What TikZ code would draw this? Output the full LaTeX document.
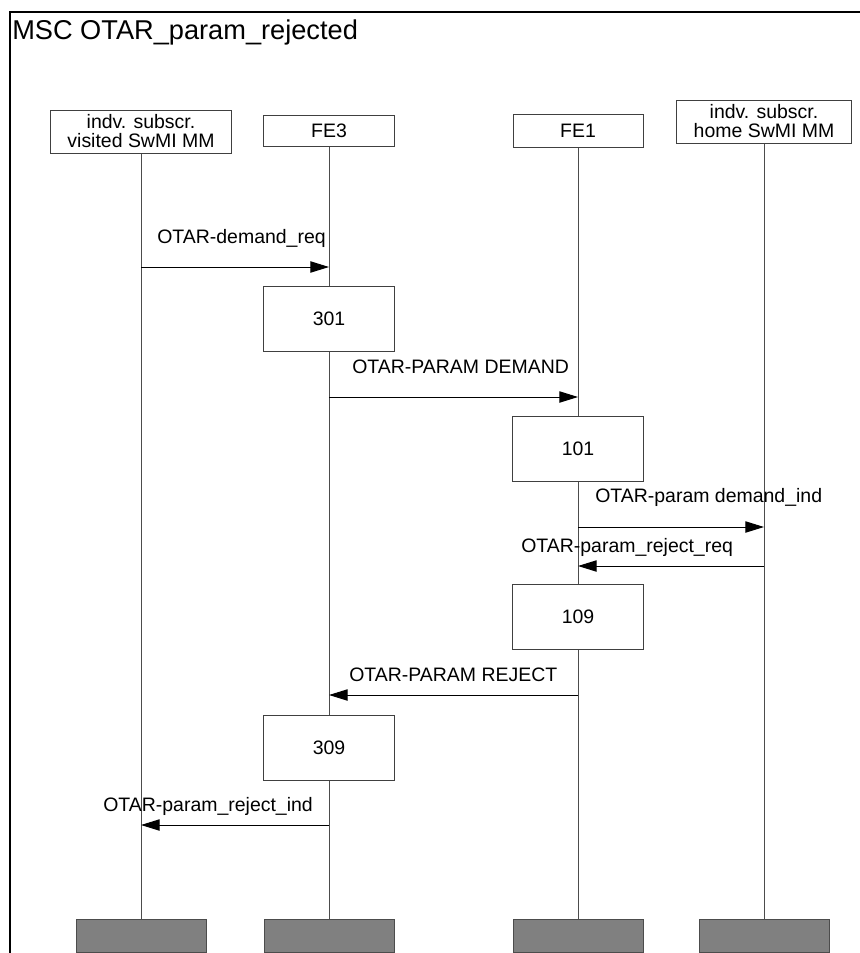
\documentclass[tikz,border=0pt]{standalone}
\usepackage{fontspec}
\setmainfont{Liberation Sans}
\usetikzlibrary{arrows.meta}

\begin{document}
\begin{tikzpicture}[x=0.75pt, y=-0.75pt,
    inst/.style={rectangle, draw=black!75, line width=0.75pt, inner sep=0pt, align=center, font=\fontsize{14.6}{14.3}\selectfont},
    taskbox/.style={inst, minimum width=98.25pt, minimum height=48.75pt},
    endbox/.style={rectangle, draw=black!70, fill=black!50, line width=0.75pt, minimum width=97.5pt, minimum height=24.75pt},
    life/.style={black!70, line width=0.75pt},
    msg/.style={-{Triangle[length=14pt, width=8.5pt]}, line width=0.75pt},
    lbl/.style={anchor=base west, inner sep=0pt, font=\fontsize{14.6}{17}\selectfont}
]
    \useasboundingbox (0,0) rectangle (860,953);

    % frame and title
    \draw[line width=1.5pt] (10,953) -- (10,12) -- (860,12);
    \node[anchor=base west, inner sep=0pt, font=\fontsize{20.4}{23}\selectfont] (title) at (12,39) {MSC OTAR\_param\_rejected};

    % instances
    \node[inst, minimum width=135.75pt, minimum height=32.25pt] (visited) at (141,131.5) {indv. subscr.\\visited SwMI MM};
    \node[inst, minimum width=98.25pt, minimum height=23.25pt] (fe3) at (329,130.5) {FE3};
    \node[inst, minimum width=97.5pt, minimum height=24.75pt] (fe1) at (578,130.5) {FE1};
    \node[inst, minimum width=131.25pt, minimum height=32.25pt] (home) at (764,121.5) {indv. subscr.\\home SwMI MM};

    % instance ends
    \node[endbox] (visitedend) at (141,935.5) {};
    \node[endbox] (fe3end) at (329,935.5) {};
    \node[endbox] (fe1end) at (578,935.5) {};
    \node[endbox] (homeend) at (764,935.5) {};

    % lifelines
    \draw[life] (visited) -- (visitedend);
    \draw[life] (fe3) -- (fe3end);
    \draw[life] (fe1) -- (fe1end);
    \draw[life] (home) -- (homeend);

    % tasks
    \node[taskbox, fill=white] (t301) at (329,318.5) {301};
    \node[taskbox, fill=white] (t101) at (578,448.5) {101};
    \node[taskbox, fill=white] (t109) at (578,617) {109};
    \node[taskbox, fill=white] (t309) at (329,747.5) {309};

    % message end points
    \coordinate (demreqA) at (141,267);
    \coordinate (demreqB) at (329,267);
    \coordinate (pdemB) at (329,397);
    \coordinate (pdemC) at (578,397);
    \coordinate (demindC) at (578,527);
    \coordinate (demindD) at (764,527);
    \coordinate (rejreqD) at (764,566);
    \coordinate (rejreqC) at (578,566);
    \coordinate (prejC) at (578,695);
    \coordinate (prejB) at (329,695);
    \coordinate (rejindB) at (329,825);
    \coordinate (rejindA) at (141,825);

    % messages
    \draw[msg] (demreqA) -- (demreqB);
    \node[lbl] (l1) at (157,243) {OTAR-demand\_req};
    \draw[msg] (pdemB) -- (pdemC);
    \node[lbl] (l2) at (352,373) {OTAR-PARAM DEMAND};
    \draw[msg] (demindC) -- (demindD);
    \node[lbl] (l3) at (595,502) {OTAR-param demand\_ind};
    \draw[msg] (rejreqD) -- (rejreqC);
    \node[lbl] (l4) at (521,552) {OTAR-param\_reject\_req};
    \draw[msg] (prejC) -- (prejB);
    \node[lbl] (l5) at (349,681) {OTAR-PARAM REJECT};
    \draw[msg] (rejindB) -- (rejindA);
    \node[lbl] (l6) at (103,811) {OTAR-param\_reject\_ind};
\end{tikzpicture}
\end{document}
